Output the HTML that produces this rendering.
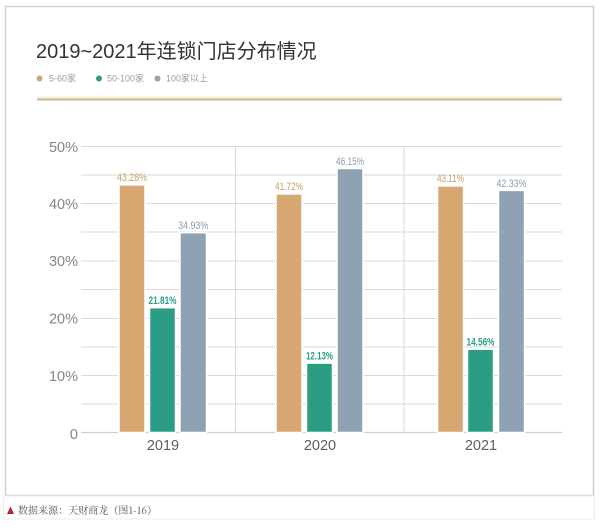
<!DOCTYPE html>
<html>
<head>
<meta charset="utf-8">
<style>
  html,body{margin:0;padding:0;background:#fff;}
  body{width:600px;height:527px;overflow:hidden;}
  svg{display:block;}
</style>
</head>
<body>
<svg width="600" height="527" viewBox="0 0 600 527" xmlns="http://www.w3.org/2000/svg">
  <rect x="0" y="0" width="600" height="527" fill="#fff"/>
  <!-- outer card -->
  <rect x="5.5" y="6.5" width="588" height="489" fill="#fff" stroke="#cfcfcf" stroke-width="1.5"/>
  <!-- footer box -->
  <rect x="3.5" y="496" width="591" height="23" fill="#fff" stroke="#ececec" stroke-width="1"/>

  <!-- title -->
  <text x="36" y="58" font-family="Liberation Sans, Noto Sans CJK SC, sans-serif" font-size="20" fill="#333">2019~2021年连锁门店分布情况</text>

  <!-- legend -->
  <g font-family="Liberation Sans, Noto Sans CJK SC, sans-serif" font-size="9" fill="#9a9a9a">
    <circle cx="39.5" cy="78.5" r="3" fill="#c4aa80"/>
    <text x="49" y="81.5">5-60家</text>
    <circle cx="99" cy="78.5" r="3" fill="#2a9d84"/>
    <text x="107" y="81.5">50-100家</text>
    <circle cx="157.5" cy="78.5" r="3" fill="#9aa4ab"/>
    <text x="166" y="81.5">100家以上</text>
  </g>

  <!-- golden rule -->
  <line x1="37" y1="97.5" x2="562" y2="97.5" stroke="#f6f1dc" stroke-width="2"/>
  <line x1="37" y1="99.5" x2="562" y2="99.5" stroke="#c3b78c" stroke-width="2"/>

  <!-- gridlines -->
  <g stroke="#dadada" stroke-width="1">
    <line x1="81" y1="146.5" x2="562" y2="146.5"/>
    <line x1="81" y1="175" x2="562" y2="175"/>
    <line x1="81" y1="203.5" x2="562" y2="203.5"/>
    <line x1="81" y1="232" x2="562" y2="232"/>
    <line x1="81" y1="261" x2="562" y2="261"/>
    <line x1="81" y1="289.5" x2="562" y2="289.5"/>
    <line x1="81" y1="318.5" x2="562" y2="318.5"/>
    <line x1="81" y1="347" x2="562" y2="347"/>
    <line x1="81" y1="375.5" x2="562" y2="375.5"/>
    <line x1="81" y1="404" x2="562" y2="404"/>
    <line x1="235.5" y1="146.5" x2="235.5" y2="432.5"/>
    <line x1="404" y1="146.5" x2="404" y2="432.5"/>
  </g>
  <line x1="81" y1="432.5" x2="562" y2="432.5" stroke="#cfcfcf" stroke-width="1.2"/>

  <!-- y labels -->
  <g font-family="Liberation Sans, sans-serif" font-size="14.5" fill="#858585" text-anchor="end">
    <text x="78" y="152">50%</text>
    <text x="78" y="209">40%</text>
    <text x="78" y="266">30%</text>
    <text x="78" y="323.5">20%</text>
    <text x="78" y="381">10%</text>
    <text x="78" y="439">0</text>
  </g>

  <!-- bars: zero=432.5, 5.72px per % -->
  <g stroke="#fff" stroke-width="1.5">
    <!-- 2019 -->
    <rect x="119" y="184.9" width="26" height="247.6" fill="#d6a771"/>
    <rect x="149.5" y="307.7" width="26" height="124.8" fill="#2a9d84"/>
    <rect x="180" y="232.7" width="26.5" height="199.8" fill="#8fa2b3"/>
    <!-- 2020 -->
    <rect x="276" y="193.9" width="26" height="238.6" fill="#d6a771"/>
    <rect x="306.5" y="363.1" width="26" height="69.4" fill="#2a9d84"/>
    <rect x="337" y="168.5" width="26" height="264" fill="#8fa2b3"/>
    <!-- 2021 -->
    <rect x="437.5" y="185.9" width="26" height="246.6" fill="#d6a771"/>
    <rect x="467.5" y="349.2" width="26" height="83.3" fill="#2a9d84"/>
    <rect x="498.5" y="190.4" width="26" height="242.1" fill="#8fa2b3"/>
  </g>

  <!-- value labels -->
  <g font-family="Liberation Sans, sans-serif" font-size="11" text-anchor="middle" lengthAdjust="spacingAndGlyphs">
    <text x="132" y="181" fill="#c9a25e" textLength="30" lengthAdjust="spacingAndGlyphs">43.28%</text>
    <text x="162.5" y="304" fill="#2a9d84" font-weight="bold" textLength="28" lengthAdjust="spacingAndGlyphs">21.81%</text>
    <text x="193.2" y="229" fill="#8a9bb0" textLength="30" lengthAdjust="spacingAndGlyphs">34.93%</text>

    <text x="289" y="190" fill="#c9a25e" textLength="28" lengthAdjust="spacingAndGlyphs">41.72%</text>
    <text x="319.5" y="359.5" fill="#2a9d84" font-weight="bold" textLength="27" lengthAdjust="spacingAndGlyphs">12.13%</text>
    <text x="350" y="165" fill="#8a9bb0" textLength="28" lengthAdjust="spacingAndGlyphs">46.15%</text>

    <text x="450.5" y="182" fill="#c9a25e" textLength="27" lengthAdjust="spacingAndGlyphs">43.11%</text>
    <text x="480.5" y="345.5" fill="#2a9d84" font-weight="bold" textLength="28" lengthAdjust="spacingAndGlyphs">14.56%</text>
    <text x="511.5" y="187" fill="#8a9bb0" textLength="30" lengthAdjust="spacingAndGlyphs">42.33%</text>
  </g>

  <!-- category labels -->
  <g font-family="Liberation Sans, sans-serif" font-size="14.5" fill="#5e5e5e" text-anchor="middle">
    <text x="163" y="450">2019</text>
    <text x="320" y="450">2020</text>
    <text x="481" y="450">2021</text>
  </g>

  <!-- footer -->
  <polygon points="7,514 10.5,506.5 14,514" fill="#b3262b"/>
  <text x="18" y="514" font-family="Noto Serif CJK SC, Liberation Serif, serif" font-size="10" fill="#555" textLength="139" lengthAdjust="spacingAndGlyphs">数据来源：天财商龙（图1-16）</text>
</svg>
</body>
</html>
